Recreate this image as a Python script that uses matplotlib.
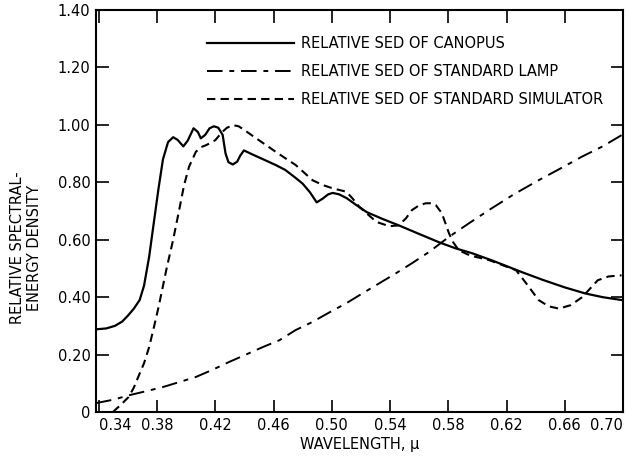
import matplotlib.pyplot as plt

# wavelength (micron) / relative SED
canopus_x = [0.338, 0.345, 0.351, 0.356, 0.360, 0.364, 0.368, 0.371, 0.3745, 0.378,
             0.381, 0.384, 0.3875, 0.391, 0.394, 0.398, 0.401, 0.405, 0.408, 0.410,
             0.413, 0.416, 0.419, 0.422, 0.425, 0.427, 0.429, 0.432, 0.435, 0.437,
             0.4396, 0.445, 0.455, 0.4615, 0.468, 0.4752, 0.480, 0.485, 0.4896, 0.4937,
             0.4975, 0.5006, 0.505, 0.5101, 0.517, 0.524, 0.535, 0.546, 0.560, 0.5737,
             0.585, 0.5963, 0.610, 0.6306, 0.645, 0.660, 0.674, 0.686, 0.699]
canopus_y = [0.288, 0.291, 0.300, 0.315, 0.336, 0.36, 0.39, 0.44, 0.54, 0.67,
             0.78, 0.88, 0.94, 0.957, 0.948, 0.925, 0.945, 0.988, 0.975, 0.953,
             0.965, 0.988, 0.995, 0.99, 0.965, 0.90, 0.87, 0.862, 0.872, 0.892,
             0.911, 0.898, 0.875, 0.86, 0.843, 0.815, 0.795, 0.765, 0.73, 0.743,
             0.758, 0.763, 0.758, 0.745, 0.72, 0.696, 0.672, 0.650, 0.620, 0.591,
             0.570, 0.553, 0.528, 0.487, 0.46, 0.434, 0.413, 0.40, 0.39]

lamp_x = [0.338, 0.35, 0.3604, 0.372, 0.384, 0.395, 0.4066, 0.418, 0.4293, 0.441,
          0.4525, 0.464, 0.475, 0.4868, 0.498, 0.510, 0.521, 0.5325, 0.544, 0.555,
          0.5667, 0.5805, 0.595, 0.610, 0.625, 0.642, 0.657, 0.6717, 0.686, 0.699]
lamp_y = [0.031, 0.043, 0.058, 0.072, 0.087, 0.104, 0.122, 0.147, 0.174, 0.200,
          0.226, 0.25, 0.285, 0.314, 0.346, 0.379, 0.413, 0.448, 0.483, 0.518,
          0.557, 0.61, 0.66, 0.71, 0.758, 0.807, 0.848, 0.889, 0.925, 0.964]

sim_x = [0.3496, 0.355, 0.3604, 0.364, 0.367, 0.371, 0.3745, 0.378, 0.381, 0.3865,
         0.391, 0.395, 0.3985, 0.4019, 0.4066, 0.410, 0.4135, 0.417, 0.420, 0.4225,
         0.4249, 0.428, 0.432, 0.436, 0.441, 0.4478, 0.4615, 0.468, 0.4752, 0.4868,
         0.494, 0.5006, 0.510, 0.514, 0.519, 0.5306, 0.5395, 0.546, 0.551, 0.555,
         0.560, 0.5646, 0.5685, 0.5715, 0.5756, 0.5805, 0.5835, 0.5873, 0.595, 0.608,
         0.6265, 0.634, 0.642, 0.649, 0.656, 0.664, 0.672, 0.6827, 0.690, 0.699]
sim_y = [0.0, 0.025, 0.052, 0.085, 0.122, 0.17, 0.226, 0.30, 0.366, 0.50,
         0.60, 0.70, 0.79, 0.854, 0.906, 0.922, 0.929, 0.938, 0.947, 0.962,
         0.976, 0.99, 0.999, 0.995, 0.978, 0.954, 0.906, 0.884, 0.86, 0.807,
         0.79, 0.779, 0.767, 0.745, 0.714, 0.662, 0.647, 0.65, 0.675, 0.703,
         0.72, 0.727, 0.727, 0.72, 0.692, 0.622, 0.59, 0.563, 0.545, 0.529,
         0.494, 0.445, 0.39, 0.368, 0.36, 0.372, 0.40, 0.459, 0.472, 0.476]

x_ticks = [0.34, 0.38, 0.42, 0.46, 0.50, 0.54, 0.58, 0.62, 0.66, 0.70]
y_ticks = [0, 0.2, 0.4, 0.6, 0.8, 1.0, 1.2, 1.4]
y_labels = ['0', '0.20', '0.40', '0.60', '0.80', '1.00', '1.20', '1.40']

plt.rcParams['font.family'] = 'DejaVu Sans'
plt.rcParams['font.size'] = 10.5

fig = plt.figure(figsize=(6.27, 4.58), dpi=100)
ax = fig.add_axes([0.1531, 0.1004, 0.8405, 0.8778])

ax.plot(canopus_x, canopus_y, color='black', lw=1.6,
        label='RELATIVE SED OF CANOPUS')
ax.plot(lamp_x, lamp_y, color='black', lw=1.4, dashes=(8, 3.5, 2.5, 3.5),
        label='RELATIVE SED OF STANDARD LAMP')
ax.plot(sim_x, sim_y, color='black', lw=1.5, dashes=(4, 2.5),
        label='RELATIVE SED OF STANDARD SIMULATOR')

ax.set_xlim(0.338, 0.70)
ax.set_ylim(0, 1.40)

ax.set_xticks(x_ticks)
ax.set_xticklabels(['%.2f' % v for v in x_ticks])
ax.set_yticks(y_ticks)
ax.set_yticklabels(y_labels)
ax.tick_params(direction='in', length=9, width=1.2, top=True, right=True,
               labelsize=10.5, pad=4)
xl = ax.get_xticklabels()
xl[0].set_ha('left')
xl[-1].set_ha('right')

for s in ax.spines.values():
    s.set_linewidth(1.5)

ax.set_xlabel('WAVELENGTH, μ', fontsize=10.5, labelpad=3)
fig.text(26 / 627, 1 - 248 / 458, 'RELATIVE SPECTRAL-\nENERGY DENSITY',
         rotation=90, ha='center', va='center', fontsize=10.5, linespacing=1.1)

ax.legend(loc='upper left', bbox_to_anchor=(0.2106, 0.935), frameon=False,
          borderpad=0, borderaxespad=0, handlelength=6.0, handletextpad=0.45,
          labelspacing=0.88, fontsize=10.5)

fig.savefig('out.png', dpi=100)
